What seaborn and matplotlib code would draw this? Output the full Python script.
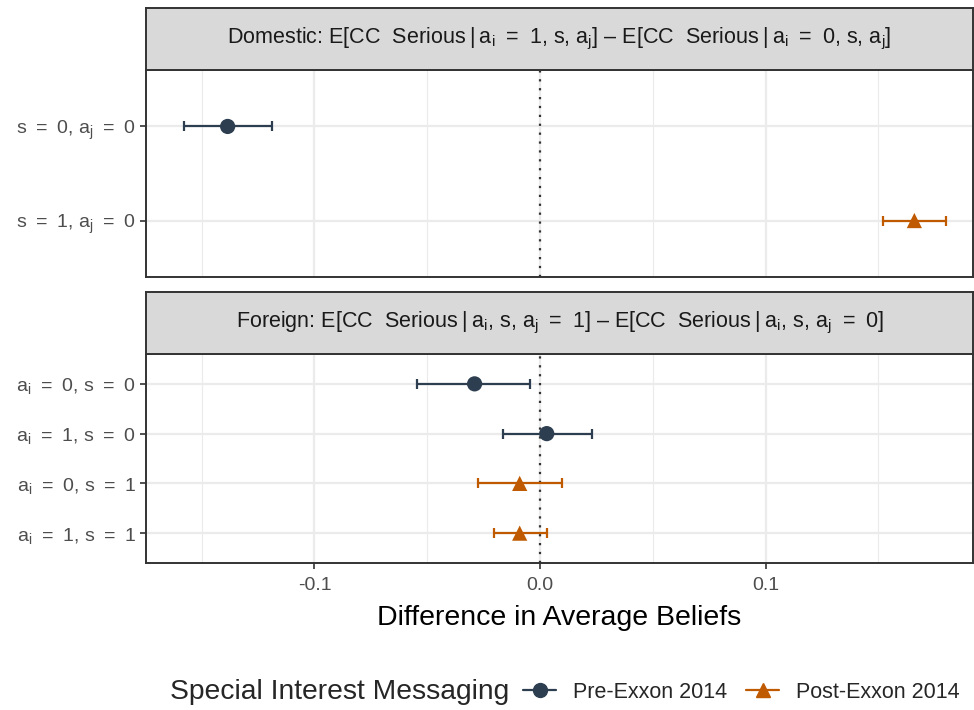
import matplotlib
matplotlib.use("Agg")
import matplotlib.pyplot as plt
from matplotlib.lines import Line2D
import seaborn as sns
import numpy as np
import pandas as pd

# --- data ---
pre = "Pre-Exxon 2014"
post = "Post-Exxon 2014"

E = "\u2002=\u2002"  # wide spacing around "=" like plotmath
AI = r"a$_\mathregular{i}$"
AJ = r"a$_\mathregular{j}$"
BAR = "\u2009|\u2009"

dom_labels = [f"s{E}0, {AJ}{E}0", f"s{E}1, {AJ}{E}0"]
dom_est = [-0.1385, 0.166]
dom_lo = [-0.158, 0.152]
dom_hi = [-0.119, 0.180]
dom_period = [pre, post]

for_labels = [f"{AI}{E}0, s{E}0", f"{AI}{E}1, s{E}0",
              f"{AI}{E}0, s{E}1", f"{AI}{E}1, s{E}1"]
for_est = [-0.029, 0.003, -0.009, -0.009]
for_lo = [-0.0545, -0.0165, -0.0275, -0.0205]
for_hi = [-0.0045, 0.023, 0.0098, 0.003]
for_period = [pre, pre, post, post]

dom_strip = (f"Domestic: E[CC  Serious{BAR}{AI}{E}1, s, {AJ}] \u2013 "
             f"E[CC  Serious{BAR}{AI}{E}0, s, {AJ}]")
for_strip = (f"Foreign: E[CC  Serious{BAR}{AI}, s, {AJ}{E}1] \u2013 "
             f"E[CC  Serious{BAR}{AI}, s, {AJ}{E}0]")

palette = {pre: "#2c3e50", post: "#c05a00"}
markers = {pre: "o", post: "^"}

sns.set_theme(style="whitegrid")
plt.rcParams["font.family"] = ["Liberation Sans", "DejaVu Sans"]
plt.rcParams["mathtext.fontset"] = "custom"
plt.rcParams["mathtext.rm"] = "Liberation Sans"
plt.rcParams["mathtext.it"] = "Liberation Sans"

W, H = 974, 710
fig = plt.figure(figsize=(W / 100, H / 100), dpi=100)


def fx(px):
    return px / W


def fy(py):
    return 1 - py / H


left, right = 146, 973
panels = [
    (dom_labels, dom_est, dom_lo, dom_hi, dom_period, dom_strip, 8, 70, 277),
    (for_labels, for_est, for_lo, for_hi, for_period, for_strip, 292, 354, 563),
]

axes = []
for labels, est, lo, hi, period, strip, s_top, a_top, a_bot in panels:
    ax = fig.add_axes([fx(left), fy(a_bot), fx(right - left), fy(a_top) - fy(a_bot)])
    sax = fig.add_axes([fx(left), fy(a_top), fx(right - left), fy(s_top) - fy(a_top)])
    n = len(labels)
    df = pd.DataFrame({"label": labels, "est": est, "lo": lo, "hi": hi,
                       "period": period, "pos": np.arange(n)})

    ax.axvline(0, color="#333333", linestyle=(0, (1, 3)), lw=1.6, zorder=1)
    for p, sub in df.groupby("period"):
        ax.errorbar(sub["est"], sub["pos"],
                    xerr=[sub["est"] - sub["lo"], sub["hi"] - sub["est"]],
                    fmt="none", ecolor=palette[p], elinewidth=1.6,
                    capsize=3.6, capthick=1.6, zorder=2)
    sns.scatterplot(data=df, x="est", y="pos", hue="period", style="period",
                    palette=palette, markers=markers, s=120, linewidth=0,
                    legend=False, ax=ax, zorder=3)

    ax.set_xlim(-0.1747, 0.1920)
    ax.set_ylim(n - 1 + 0.6, -0.6)
    ax.set_yticks(np.arange(n))
    ax.set_yticklabels(labels, fontsize=14, color="#4d4d4d")
    ax.set_xticks([-0.1, 0.0, 0.1])
    ax.set_xticks([-0.15, -0.05, 0.05, 0.15], minor=True)
    ax.grid(True, which="major", color="#ebebeb", lw=1.6)
    ax.grid(True, which="minor", axis="x", color="#ebebeb", lw=0.8)
    ax.set_xlabel("")
    ax.set_ylabel("")
    ax.tick_params(axis="y", length=4, width=1.2, color="#333333", pad=3, left=True)
    ax.set_facecolor("white")
    for sp in ax.spines.values():
        sp.set_color("#333333")
        sp.set_linewidth(1.4)
    ax.set_axisbelow(True)

    sax.set_facecolor("#d9d9d9")
    sax.set_xticks([])
    sax.set_yticks([])
    sax.grid(False)
    for sp in sax.spines.values():
        sp.set_color("#333333")
        sp.set_linewidth(1.4)
    sax.text(0.5, 0.5, strip, ha="center", va="center", fontsize=15.5,
             color="#1a1a1a", transform=sax.transAxes)
    axes.append(ax)

axes[0].tick_params(axis="x", bottom=False, labelbottom=False)
axes[1].tick_params(axis="x", bottom=True, length=4, width=1.2, color="#333333",
                    labelsize=14, labelcolor="#4d4d4d", pad=6)
axes[1].set_xticklabels(["-0.1", "0.0", "0.1"])
axes[1].set_xlabel("Difference in Average Beliefs", fontsize=20.5, color="black", labelpad=8)

fig.text(fx(170), fy(692), "Special Interest Messaging", fontsize=20.3,
         ha="left", va="center")
handles = [Line2D([], [], color=palette[p], marker=markers[p], markersize=10,
                  lw=1.6) for p in [pre, post]]
fig.legend(handles, [pre, post], ncol=2, loc="center left",
           bbox_to_anchor=(fx(504), fy(692)), frameon=False, fontsize=15.5,
           handlelength=1.5, handletextpad=0.8, columnspacing=0.9)

fig.savefig("out.png", dpi=100)
